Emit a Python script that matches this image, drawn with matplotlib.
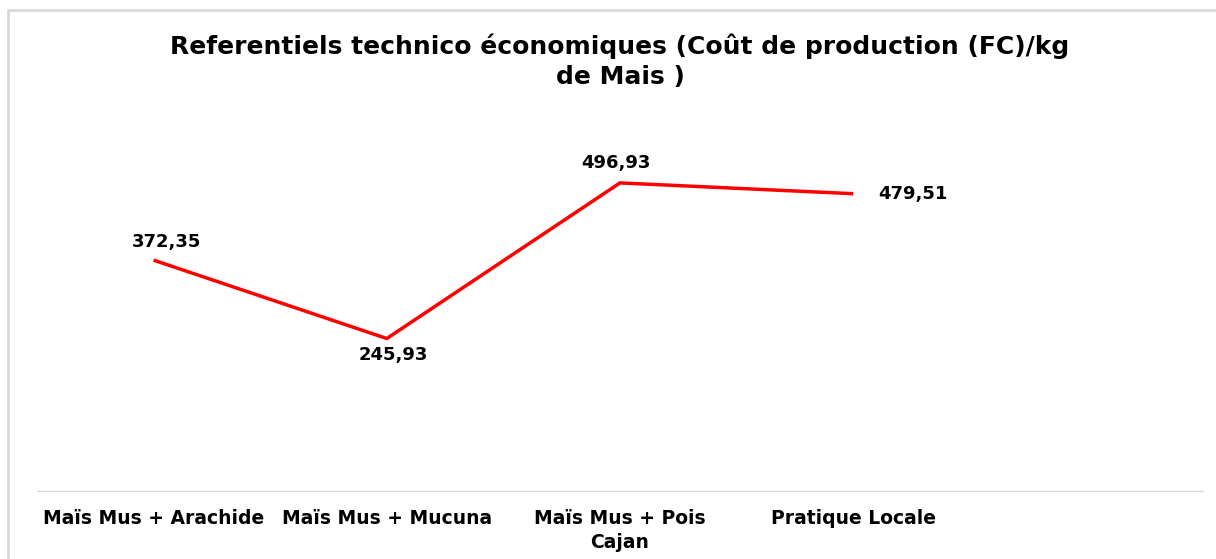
import numpy as np
import matplotlib.pyplot as plt
from matplotlib.patches import Rectangle

plt.rcParams['font.family'] = ['DejaVu Sans']

categories = ["Maïs Mus + Arachide", "Maïs Mus + Mucuna", "Maïs Mus + Pois\nCajan", "Pratique Locale", ""]
values = [372.35, 245.93, 496.93, 479.51]
labels = ["372,35", "245,93", "496,93", "479,51"]

fig = plt.figure(figsize=(12.16, 5.59), dpi=100)
ax = fig.add_axes([37/1216, 68/559, 1166/1216, 372/559])

# cadre gris clair autour du graphique
fig.patches.append(Rectangle((8/1216, -0.1), 1.2, (559-10)/559 + 0.1, transform=fig.transFigure,
                             fill=False, edgecolor="#d9d9d9", linewidth=2))

x = np.arange(len(values))
ax.plot(x, values, color="red", linewidth=2.5, solid_capstyle="butt")

offsets = [(9, 13), (5, -12), (-3, 14), (18, 0)]
aligns = ["center", "center", "center", "left"]
for xi, v, lab, off, al in zip(x, values, labels, offsets, aligns):
    ax.annotate(lab, (xi, v), xytext=off, textcoords="offset points",
                ha=al, va="center", fontsize=13, fontweight="bold")

ax.set_xlim(-0.5, len(categories) - 0.5)
ax.set_ylim(0, 600)
ax.set_xticks(np.arange(len(categories)))
ax.set_xticklabels(categories, fontsize=13.5, fontweight="bold", linespacing=1.35)
ax.tick_params(axis="x", length=0, pad=13)
ax.set_yticks([])
for s in ["top", "right", "left"]:
    ax.spines[s].set_visible(False)
ax.spines["bottom"].set_color("#d9d9d9")
ax.spines["bottom"].set_linewidth(1)

fig.text(620/1216, 1 - 61/559, "Referentiels technico économiques (Coût de production (FC)/kg\nde Mais )",
         ha="center", va="center", fontsize=18, fontweight="bold", linespacing=1.3)

fig.savefig("out.png", dpi=100)
